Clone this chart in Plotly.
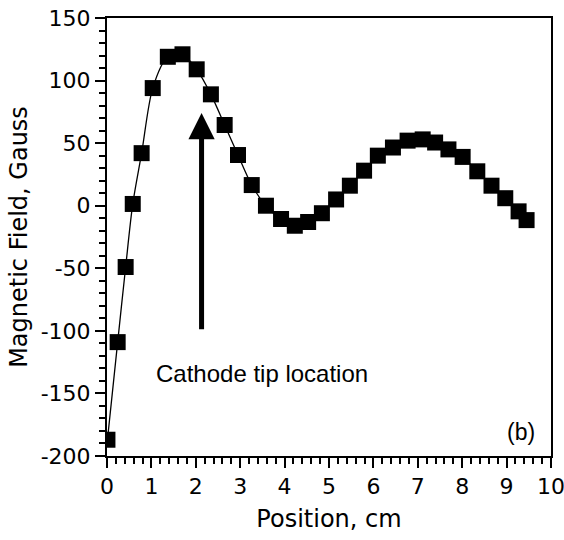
import plotly.graph_objects as go

# Data
position_cm = [0.01, 0.24, 0.42, 0.58, 0.78, 1.03, 1.37, 1.70, 2.02, 2.34, 2.65,
               2.95, 3.26, 3.58, 3.92, 4.23, 4.53, 4.84, 5.16, 5.47, 5.79, 6.10,
               6.44, 6.77, 7.11, 7.39, 7.69, 8.01, 8.34, 8.66, 8.97, 9.27, 9.45]
field_gauss = [-187, -109, -49, 1.4, 42, 94, 119, 121, 109, 89, 64.5,
               40.5, 16.5, 0, -10.6, -16, -13, -6, 5, 16, 28, 40,
               46.5, 52, 53, 50.5, 45, 39, 27.5, 16, 6, -4.5, -11.5]

x_tick_vals = [0, 1, 2, 3, 4, 5, 6, 7, 8, 9, 10]
x_tick_text = ["0", "1", "2", "3", "4", "5", "6", "7", "8", "9", "10"]
y_tick_vals = [-200, -150, -100, -50, 0, 50, 100, 150]
y_tick_text = ["-200", "-150", "-100", "-50", "0", "50", "100", "150"]

cathode_x = 2.13
arrow_tip_y = 74
arrow_tail_y = -100

tick_font = dict(family="DejaVu Sans", size=22, color="black")
title_font = dict(family="DejaVu Sans", size=24, color="black")

fig = go.Figure()
fig.add_trace(go.Scatter(
    x=position_cm, y=field_gauss, mode="lines+markers",
    line=dict(color="black", width=1.3, shape="spline", smoothing=0.8),
    marker=dict(symbol="square", size=16, color="black"),
    showlegend=False, hoverinfo="skip"))

axis_common = dict(showline=True, linecolor="black", linewidth=2, mirror=True,
                   ticks="outside", tickcolor="black", tickwidth=2, ticklen=10,
                   showgrid=False, zeroline=False, tickfont=tick_font,
                   automargin=False, ticklabeloverflow="allow")

fig.update_xaxes(range=[0, 10], tickmode="array", tickvals=x_tick_vals,
                 ticktext=x_tick_text,
                 minor=dict(ticks="outside", dtick=0.2, ticklen=6, tickwidth=1.5,
                            tickcolor="black", showgrid=False),
                 title=dict(text="Position, cm", font=title_font, standoff=12),
                 **axis_common)
fig.update_yaxes(range=[-200, 150], tickmode="array", tickvals=y_tick_vals,
                 ticktext=y_tick_text,
                 minor=dict(ticks="outside", dtick=10, ticklen=6, tickwidth=1.5,
                            tickcolor="black", showgrid=False),
                 title=dict(text="Magnetic Field, Gauss", font=title_font, standoff=6),
                 **axis_common)

fig.add_annotation(x=cathode_x, y=arrow_tip_y, ax=cathode_x, ay=arrow_tail_y,
                   xref="x", yref="y", axref="x", ayref="y", text="",
                   showarrow=True, arrowhead=2, arrowwidth=5, arrowsize=1.05,
                   arrowcolor="black")
fig.add_annotation(x=3.49, y=-134, xref="x", yref="y", text="Cathode tip location",
                   showarrow=False,
                   font=dict(family="Liberation Sans", size=24, color="black"))
fig.add_annotation(x=9.33, y=-181, xref="x", yref="y", text="(b)",
                   showarrow=False,
                   font=dict(family="Liberation Sans", size=23, color="black"))

fig.update_layout(width=564, height=540, margin=dict(l=107, r=13, t=18, b=84),
                  plot_bgcolor="white", paper_bgcolor="white")

fig.write_html("out.html")
